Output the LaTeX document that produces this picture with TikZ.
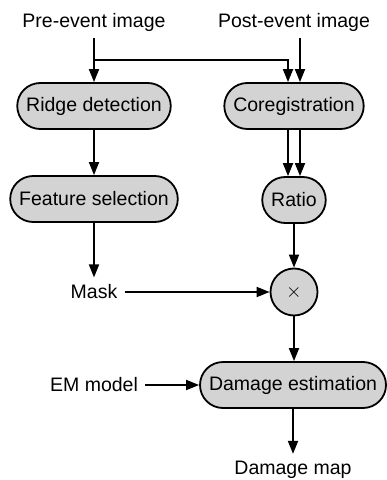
\documentclass[tikz,border=0pt]{standalone}
\usepackage{fontspec}
\setmainfont{Liberation Sans}
\usetikzlibrary{arrows.meta}
\definecolor{boxgray}{HTML}{D3D3D3}
\tikzset{
  proc/.style={draw,line width=0.9pt,fill=boxgray,rounded corners=11.5pt,minimum height=23pt,inner xsep=4.5pt,inner ysep=0pt},
  mult/.style={draw,line width=0.9pt,fill=boxgray,circle,minimum size=23.5pt,inner sep=0pt},
  lbl/.style={inner sep=3.5pt},
  flow/.style={-{Triangle[length=6.5pt,width=5pt]},line width=0.9pt}
}
\begin{document}
\begin{tikzpicture}[x=0.5pt,y=-0.5pt,font=\fontsize{9.75}{11}\selectfont]
\useasboundingbox (0,0) rectangle (386,480);
% inputs and blocks
\node[lbl] (pre) at (94,22) {Pre-event image};
\node[lbl] (post) at (294,22) {Post-event image};
\node[proc] (ridge) at (94,106) {Ridge detection};
\node[proc] (coreg) at (294,106) {Coregistration};
\node[proc] (feat) at (94,199) {Feature selection};
\node[proc] (ratio) at (294,200) {Ratio};
\node[lbl] (mask) at (94,292) {Mask};
\node[mult] (times) at (294,292) {$\times$};
\node[lbl] (em) at (94,385) {EM model};
\node[proc] (dmg) at (293,385) {Damage estimation};
\node[lbl] (map) at (293,470) {Damage map};
\coordinate (split) at (94,60);
% connectors
\draw[flow] (pre) -- (ridge);
\draw[flow] (split) -| ([xshift=-3pt]coreg.north);
\draw[flow] ([xshift=3pt]post.south) -- ([xshift=3pt]coreg.north);
\draw[flow] (ridge) -- (feat);
\foreach \s in {-3pt,3pt}
  \draw[flow] ([xshift=\s]coreg.south) -- ([xshift=\s]ratio.north);
\draw[flow] (feat) -- (mask);
\draw[flow] (mask) -- (times);
\draw[flow] (ratio) -- (times);
\draw[flow] (times) -- (dmg.north -| times);
\draw[flow] (em) -- (dmg);
\draw[flow] (dmg.south -| map) -- (map);
\end{tikzpicture}
\end{document}
